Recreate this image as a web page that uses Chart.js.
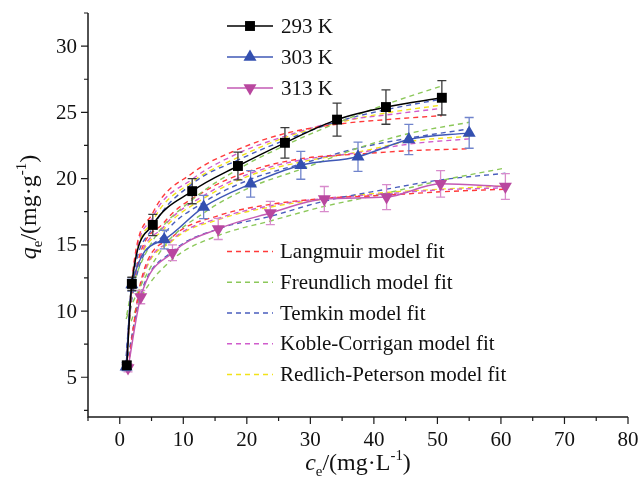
<!DOCTYPE html>
<html>
<head>
<meta charset="utf-8">
<script src="https://cdn.jsdelivr.net/npm/chart.js@4.4.1/dist/chart.umd.min.js"></script>
<style>
  html, body { margin: 0; padding: 0; background: #fff; }
  #wrap { width: 639px; height: 477px; }
</style>
</head>
<body>
<div id="wrap"><canvas id="isoChart" width="639" height="477"></canvas></div>
<script>
  const temps = ['293 K', '303 K', '313 K'];

  const ce293 = [1.1, 1.9, 5.2, 11.4, 18.6, 26.0, 34.2, 41.9, 50.7];
  const qe293 = [5.9, 12.05, 16.5, 19.05, 20.95, 22.7, 24.45, 25.4, 26.1];
  const err293 = [0.3, 0.5, 0.8, 0.95, 1.05, 1.15, 1.25, 1.3, 1.3];

  const ce303 = [1.0, 1.9, 7.0, 13.2, 20.6, 28.5, 37.5, 45.5, 55.0];
  const qe303 = [5.8, 12.0, 15.4, 17.85, 19.6, 21.0, 21.65, 22.95, 23.45];
  const err303 = [0.3, 0.5, 0.7, 0.88, 1.0, 1.05, 1.1, 1.14, 1.16];

  const ce313 = [1.3, 3.3, 8.3, 15.5, 23.7, 32.2, 42.0, 50.5, 60.7];
  const qe313 = [5.7, 11.05, 14.4, 16.2, 17.4, 18.45, 18.6, 19.6, 19.4];
  const err313 = [0.3, 0.5, 0.6, 0.8, 0.88, 0.95, 0.95, 1.0, 0.97];

  // model fit values at the same ce
  const langmuir293 = [6.2, 12.3, 17.4, 20.4, 22.2, 23.4, 24.1, 24.45, 24.75];
  const freundlich293 = [9.7, 11.6, 15.3, 18.4, 20.7, 22.5, 24.2, 25.6, 27.0];
  const temkin293 = [7.2, 11.8, 16.3, 19.6, 21.4, 22.9, 24.3, 25.2, 26.0];
  const koble293 = [6.1, 12.1, 17.1, 19.95, 21.9, 23.2, 24.3, 24.8, 25.3];
  const redlich293 = [6.0, 12.0, 16.8, 19.75, 21.6, 23.1, 24.2, 24.95, 25.55];

  const langmuir303 = [5.9, 11.4, 16.7, 19.0, 20.6, 21.5, 21.85, 22.1, 22.25];
  const freundlich303 = [9.4, 10.5, 14.9, 17.4, 19.35, 20.7, 22.3, 23.4, 24.25];
  const temkin303 = [6.6, 10.9, 15.8, 18.2, 19.95, 21.1, 22.3, 23.05, 23.75];
  const koble303 = [5.95, 11.2, 16.4, 18.7, 20.4, 21.4, 21.95, 22.6, 23.0];
  const redlich303 = [5.9, 11.1, 16.2, 18.5, 20.25, 21.25, 22.0, 22.8, 23.2];

  const langmuir313 = [5.8, 12.2, 15.6, 17.2, 18.05, 18.5, 18.75, 19.0, 19.2];
  const freundlich313 = [8.6, 11.0, 13.9, 15.7, 16.8, 17.9, 18.9, 19.85, 20.8];
  const temkin313 = [6.6, 11.3, 14.5, 16.2, 17.15, 18.3, 19.2, 19.9, 20.4];
  const koble313 = [5.85, 12.0, 15.4, 17.0, 17.95, 18.5, 18.85, 19.15, 19.3];
  const redlich313 = [5.9, 11.9, 15.3, 16.9, 17.85, 18.45, 18.95, 19.2, 19.45];

  const modelNames = ['Langmuir model fit', 'Freundlich model fit', 'Temkin model fit',
    'Koble-Corrigan model fit', 'Redlich-Peterson model fit'];
  const modelColors = ['#ff3a3a', '#8cc85a', '#4a5ebd', '#d05ccc', '#f2e21a'];

  // axis ticks
  const xMajor = [0, 10, 20, 30, 40, 50, 60, 70, 80];
  const xMinor = [-5, 5, 15, 25, 35, 45, 55, 65, 75];
  const yMajor = [5, 10, 15, 20, 25, 30];
  const yMinor = [2.5, 7.5, 12.5, 17.5, 22.5, 27.5, 32.5];

  const serif = '"Liberation Serif", "Times New Roman", serif';

  const toPts = (xs, ys) => xs.map((x, i) => ({ x: x, y: ys[i] }));

  const seriesStyle = [
    { ce: ce293, qe: qe293, err: err293, line: '#000000', fill: '#000000', errColor: '#3a3a3a', style: 'rect', rot: 0, r: 7 },
    { ce: ce303, qe: qe303, err: err303, line: '#3f58b6', fill: '#3450b0', errColor: '#7084cc', style: 'triangle', rot: 0, r: 7.5 },
    { ce: ce313, qe: qe313, err: err313, line: '#c35ab4', fill: '#b9479f', errColor: '#d88bcc', style: 'triangle', rot: 180, r: 7.5 }
  ];

  const fits = [
    [langmuir293, freundlich293, temkin293, koble293, redlich293],
    [langmuir303, freundlich303, temkin303, koble303, redlich303],
    [langmuir313, freundlich313, temkin313, koble313, redlich313]
  ];

  const datasets = [];
  seriesStyle.forEach((s, i) => {
    datasets.push({
      label: temps[i],
      data: toPts(s.ce, s.qe),
      errors: s.err,
      errorColor: s.errColor,
      borderColor: s.line,
      borderWidth: 1.5,
      backgroundColor: s.fill,
      pointStyle: s.style,
      pointRotation: s.rot,
      pointRadius: s.r,
      pointBorderWidth: 0,
      pointBackgroundColor: s.fill,
      cubicInterpolationMode: 'monotone'
    });
  });
  fits.forEach((set, i) => {
    set.forEach((vals, m) => {
      datasets.push({
        label: modelNames[m] + ' ' + temps[i],
        data: toPts(seriesStyle[i].ce, vals),
        borderColor: modelColors[m],
        borderWidth: 1.4,
        borderDash: [5, 4],
        pointRadius: 0,
        cubicInterpolationMode: 'monotone'
      });
    });
  });

  // error bars go under each data series
  const errorBars = {
    id: 'errorBars',
    beforeDatasetDraw(chart, args) {
      const ds = chart.data.datasets[args.index];
      if (!ds.errors) return;
      const { ctx, scales: { y } } = chart;
      ctx.save();
      ctx.strokeStyle = ds.errorColor;
      ctx.lineWidth = 1.3;
      args.meta.data.forEach((pt, i) => {
        const v = ds.data[i].y, e = ds.errors[i];
        const top = y.getPixelForValue(v + e), bot = y.getPixelForValue(v - e);
        ctx.beginPath();
        ctx.moveTo(pt.x, top); ctx.lineTo(pt.x, bot);
        ctx.moveTo(pt.x - 4.5, top); ctx.lineTo(pt.x + 4.5, top);
        ctx.moveTo(pt.x - 4.5, bot); ctx.lineTo(pt.x + 4.5, bot);
        ctx.stroke();
      });
      ctx.restore();
    }
  };

  function drawRich(ctx, parts, cx, base, size) {
    let total = 0;
    const m = parts.map(p => {
      const fs = p.small ? size * 0.62 : size;
      const font = (p.italic ? 'italic ' : '') + fs + 'px ' + serif;
      ctx.font = font;
      const w = ctx.measureText(p.t).width;
      total += w;
      return { p, font, w };
    });
    let x = cx - total / 2;
    ctx.textAlign = 'left';
    ctx.textBaseline = 'alphabetic';
    m.forEach(({ p, font, w }) => {
      ctx.font = font;
      ctx.fillText(p.t, x, base + (p.dy || 0) * size);
      x += w;
    });
  }

  const frame = {
    id: 'frame',
    afterDraw(chart) {
      const { ctx, chartArea: a, scales: { x, y } } = chart;
      ctx.save();
      ctx.strokeStyle = '#1a1a1a';
      ctx.lineWidth = 1.5;
      ctx.beginPath();
      ctx.moveTo(a.left, a.top);
      ctx.lineTo(a.left, a.bottom);
      ctx.lineTo(a.right, a.bottom);
      ctx.stroke();

      ctx.lineWidth = 1.2;
      ctx.beginPath();
      xMajor.forEach(v => { const px = x.getPixelForValue(v); ctx.moveTo(px, a.bottom); ctx.lineTo(px, a.bottom + 7); });
      xMinor.forEach(v => { const px = x.getPixelForValue(v); ctx.moveTo(px, a.bottom); ctx.lineTo(px, a.bottom + 4); });
      yMajor.forEach(v => { const py = y.getPixelForValue(v); ctx.moveTo(a.left, py); ctx.lineTo(a.left - 7, py); });
      yMinor.forEach(v => { const py = y.getPixelForValue(v); ctx.moveTo(a.left, py); ctx.lineTo(a.left - 4, py); });
      ctx.stroke();

      ctx.fillStyle = '#111';
      ctx.font = '21px ' + serif;
      ctx.textAlign = 'center';
      ctx.textBaseline = 'middle';
      xMajor.forEach(v => ctx.fillText(String(v), x.getPixelForValue(v), a.bottom + 23));
      ctx.textAlign = 'right';
      yMajor.forEach(v => ctx.fillText(String(v), a.left - 11, y.getPixelForValue(v) + 1));

      // axis titles
      drawRich(ctx, [
        { t: 'c', italic: true },
        { t: 'e', small: true, dy: 0.25 },
        { t: '/(mg·L' },
        { t: '-1', small: true, dy: -0.42 },
        { t: ')' }
      ], (a.left + a.right) / 2, 470, 24);

      ctx.save();
      ctx.translate(36, 207);
      ctx.rotate(-Math.PI / 2);
      drawRich(ctx, [
        { t: 'q', italic: true },
        { t: 'e', small: true, dy: 0.25 },
        { t: '/(mg·g' },
        { t: '-1', small: true, dy: -0.42 },
        { t: ')' }
      ], 0, 0, 24);
      ctx.restore();

      // series legend
      const rows = [26, 57, 88];
      seriesStyle.forEach((s, i) => {
        ctx.strokeStyle = s.line;
        ctx.lineWidth = 1.5;
        ctx.setLineDash([]);
        ctx.beginPath();
        ctx.moveTo(227, rows[i]); ctx.lineTo(273, rows[i]);
        ctx.stroke();
        ctx.fillStyle = s.fill;
        Chart.helpers.drawPoint(ctx, { pointStyle: s.style, radius: s.r, rotation: s.rot, borderWidth: 0 }, 250, rows[i]);
        ctx.fillStyle = '#111';
        ctx.font = '21px ' + serif;
        ctx.textAlign = 'left';
        ctx.textBaseline = 'middle';
        ctx.fillText(temps[i], 281, rows[i] + 1);
      });

      // model legend
      const mRows = [251.5, 282.3, 313, 343.8, 374.5];
      modelNames.forEach((name, m) => {
        ctx.strokeStyle = modelColors[m];
        ctx.lineWidth = 1.4;
        ctx.setLineDash([5, 4]);
        ctx.beginPath();
        ctx.moveTo(227, mRows[m]); ctx.lineTo(273, mRows[m]);
        ctx.stroke();
        ctx.setLineDash([]);
        ctx.fillStyle = '#111';
        ctx.font = '21px ' + serif;
        ctx.textAlign = 'left';
        ctx.textBaseline = 'middle';
        ctx.fillText(name, 280, mRows[m] + 1);
      });
      ctx.restore();
    }
  };

  const config = {
    type: 'line',
    data: { datasets: datasets },
    options: {
      responsive: false,
      animation: false,
      layout: { padding: { left: 88, right: 11, top: 13, bottom: 60 } },
      plugins: {
        legend: { display: false },
        tooltip: { enabled: false }
      },
      scales: {
        x: { type: 'linear', min: -5, max: 80, display: false },
        y: { type: 'linear', min: 2, max: 32.5, display: false }
      }
    },
    plugins: [errorBars, frame]
  };

  const ctx = document.getElementById('isoChart').getContext('2d');
  new Chart(ctx, config);
</script>
</body>
</html>
